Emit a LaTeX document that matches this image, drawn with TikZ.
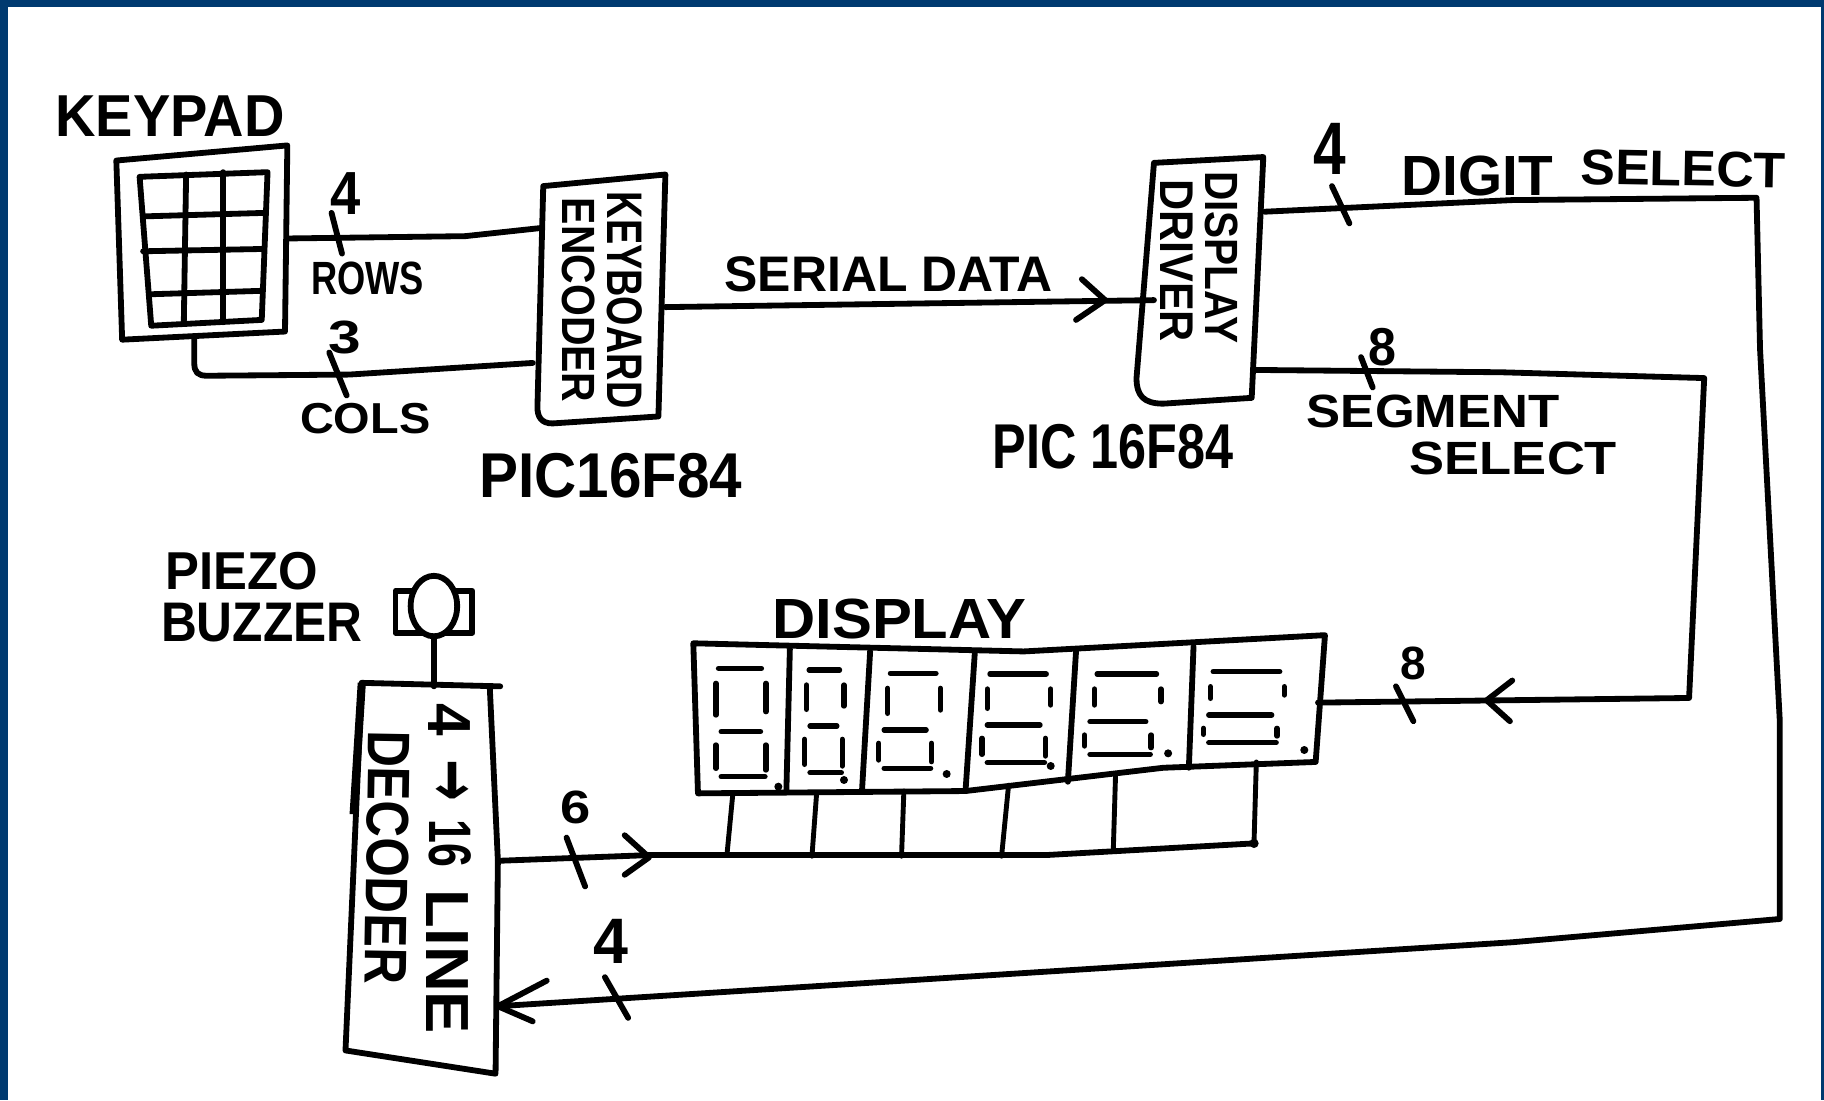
\documentclass[tikz,border=0pt]{standalone}
\usepackage{fontspec}
\usepackage{graphicx}
\setmainfont{Liberation Sans}
\newfontfamily\arrowfont{DejaVu Sans}
\definecolor{frameblue}{HTML}{003A70}
\tikzset{
  lab/.style={inner sep=0pt,outer sep=0pt,text=black,font=\bfseries},
  pen/.style={draw=black,line width=5pt,line cap=round,line join=round},
  thin pen/.style={draw=black,line width=4.2pt,line cap=round,line join=round},
  seg/.style={draw=black,line width=4.6pt,line cap=round},
}
% name, centre, width, height, rotation, text
\newcommand\lbl[6]{\node[lab,rotate=#5] (#1) at (#2) {\resizebox{#3pt}{#4pt}{#6}};}
% seven segments: upper L, upper R, lower shift, T, M, B, dot x, dot y (in zoom units)
\newcommand\sevenseg[8]{%
  \pgfmathsetmacro\lla{#1-#3}\pgfmathsetmacro\lra{#2-#3}%
  \draw[seg] (#1+6,#4) -- (#2-10,#4);
  \draw[seg] (#1,#4+45) -- (#1,#5-50);
  \draw[seg] (#2,#4+45) -- (#2,#5-60);
  \draw[seg] (\lla+12,#5) -- (\lra-12,#5);
  \draw[seg] (\lla,#5+40) -- (\lla,#6-25);
  \draw[seg] (\lra,#5+40) -- (\lra,#6-20);
  \draw[seg] (\lla+12,#6) -- (\lra-2,#6);
  \fill (#7,#8) ellipse[x radius=9,y radius=12];
}
\begin{document}
\begin{tikzpicture}[x=1pt,y=-1pt]
\useasboundingbox (0,0) rectangle (1568,946);
\fill[white] (0,0) rectangle (1568,946);
\fill[frameblue] (0,0) rectangle (1568,6);
\fill[frameblue] (0,0) rectangle (7,946);
\fill[frameblue] (1565,0) rectangle (1568,946);

% keypad
\coordinate (kpR) at (247,205);
\coordinate (kpC) at (167,291);
\draw[pen] (100,138) -- (247,125) -- (245,285) -- (105,292) -- cycle;
\draw[pen] (120,152) -- (230,148) -- (225,275) -- (130,280) -- cycle;
\draw[pen] (160,150) -- (158,278);
\draw[pen] (192,148) -- (192,277);
\draw[pen] (124,186) -- (228,183);
\draw[pen] (123,216) -- (227,214);
\draw[pen] (128,253) -- (225,250);
\lbl{keypad}{146,100}{197}{35}{0}{KEYPAD}

% keyboard encoder
\coordinate (enL1) at (465,196);
\coordinate (enL2) at (458,312);
\coordinate (enR) at (572,264);
\draw[pen] (467,160) -- (572,150) -- (566,358) -- (475,364) .. controls (465,364) and (462,358) .. (462,350) -- cycle;
\lbl{kbd}{537,258}{186}{30}{-90}{KEYBOARD}
\lbl{enc}{497,258}{176}{28}{-90}{ENCODER}
\lbl{pic1}{525,409}{226}{38}{0}{PIC16F84}

% rows / cols
\draw[pen] (kpR) -- (400,203) -- (enL1);
\draw[pen] (kpC) -- (167,312) .. controls (167,320) and (170,323) .. (178,323) -- (300,322) -- (enL2);
\draw[pen] (285,183) -- (294,218);
\draw[pen] (283,303) -- (298,340);
\lbl{four1}{297,166}{26}{36}{0}{4}
\lbl{three}{296,290}{28}{28}{0}{3}
\lbl{rows}{316,239}{97}{28}{0}{ROWS}
\lbl{cols}{314,360}{112}{26}{0}{COLS}

% display driver
\coordinate (drIn) at (992,258);
\coordinate (drD) at (1087,182);
\coordinate (drS) at (1077,318);
\draw[pen] (992,140) -- (1086,135) -- (1076,342) -- (1000,347) .. controls (983,347) and (977,340) .. (977,325) -- cycle;
\lbl{disp1}{1050,221}{148}{28}{-90}{DISPLAY}
\lbl{driver}{1012,224}{140}{28}{-90}{DRIVER}
\lbl{pic2}{957,384}{207}{38}{0}{PIC 16F84}

% serial data
\draw[pen] (enR) -- (drIn);
\draw[pen] (930,240) -- (950,258) -- (925,275);
\lbl{serial}{764,236}{282}{30}{0}{SERIAL DATA}

% digit select
\coordinate (decIn) at (428,865);
\draw[pen] (drD) -- (1300,172) -- (1510,170) -- (1513,300) -- (1530,620) -- (1530,790) -- (1300,810) -- (decIn);
\draw[pen] (1145,160) -- (1160,192);
\draw[pen] (470,843) -- (428,865) -- (458,878);
\draw[pen] (520,840) -- (540,875);
\lbl{four2}{1143,128}{28}{44}{0}{4}
\lbl{four3}{525,809}{30}{38}{0}{4}
\lbl{digit}{1270,151}{130}{34}{0}{DIGIT}
\lbl{sel1}{1447,145}{176}{30}{-1}{SELECT}

% segment select
\coordinate (dspIn) at (1133,604);
\draw[pen] (drS) -- (1290,320) -- (1465,325) -- (1452,600) -- (dspIn);
\draw[pen] (1170,307) -- (1180,333);
\draw[pen] (1300,585) -- (1278,602) -- (1298,620);
\draw[pen] (1200,590) -- (1215,620);
\lbl{eight1}{1188,298}{24}{32}{0}{8}
\lbl{eight2}{1215,570}{22}{28}{0}{8}
\lbl{segm}{1232,354}{217}{28}{0}{SEGMENT}
\lbl{sel2}{1301,394}{178}{28}{0}{SELECT}

% display
\lbl{displ}{773,532}{218}{34}{0}{DISPLAY}
\draw[pen] (596,553) -- (880,560) -- (1139,546) -- (1131,655) -- (1000,660) -- (830,680) -- (600,682) -- cycle;
\draw[pen] (679,558) -- (676,680);
\draw[pen] (748,560) -- (741,680);
\draw[pen] (838,561) -- (830,680);
\draw[pen] (925,560) -- (918,672);
\draw[pen] (1026,556) -- (1022,660);
\begin{scope}[shift={(567.4,515.8)},x=0.3838pt,y=-0.2865pt]
\sevenseg{125}{237}{0}{205}{395}{530}{265}{560}
\sevenseg{328}{412}{4}{210}{378}{518}{412}{540}
\sevenseg{510}{628}{20}{220}{390}{505}{642}{522}
\sevenseg{733}{875}{12}{222}{375}{488}{875}{498}
\sevenseg{973}{1122}{22}{222}{365}{463}{1138}{460}
\sevenseg{1233}{1398}{16}{215}{345}{428}{1443}{450}
\end{scope}

% decoder
\coordinate (decTop) at (373,590);
\coordinate (decOut) at (428,740);
\draw[pen] (311,587) -- (430,590);
\draw[pen] (421,590) -- (428,740) -- (426,923) -- (297,903) -- (311,587);
\draw[draw=black,line width=7pt] (311,587) -- (304,700);
\lbl{dfour}{386,619}{28}{36}{-90}{4}
\lbl{darrow}{386,671}{36}{34}{-90}{\arrowfont →}
\lbl{dsixteen}{387,725}{41}{36}{-90}{16}
\lbl{dline}{385,827}{124}{36}{-90}{LINE}
\lbl{decoder}{333,737}{218}{36}{-91}{DECODER}

% bus
\coordinate (busEnd) at (1078,725);
\draw[pen] (decOut) -- (560,735) -- (900,735) -- (busEnd);
\draw[pen] (487,720) -- (503,762);
\draw[pen] (537,718) -- (558,737) -- (537,752);
\lbl{six}{495,694}{26}{28}{0}{6}
\draw[thin pen] (630,682) -- (625,734);
\draw[thin pen] (702,682) -- (698,736);
\draw[thin pen] (777,680) -- (775,736);
\draw[thin pen] (867,675) -- (861,736);
\draw[thin pen] (959,665) -- (957,732);
\draw[thin pen] (1080,655) -- (1078,725);
\fill (busEnd) circle[radius=4];

% buzzer
\coordinate (bzB) at (373,547);
\draw[pen,fill=white] (340,508) rectangle (406,544);
\draw[pen,fill=white] (373,521) ellipse[x radius=20,y radius=26];
\draw[pen] (bzB) -- (decTop);
\lbl{piezo}{208,491}{131}{32}{0}{PIEZO}
\lbl{buzzer}{225,535}{173}{33}{0}{BUZZER}
\end{tikzpicture}
\end{document}
